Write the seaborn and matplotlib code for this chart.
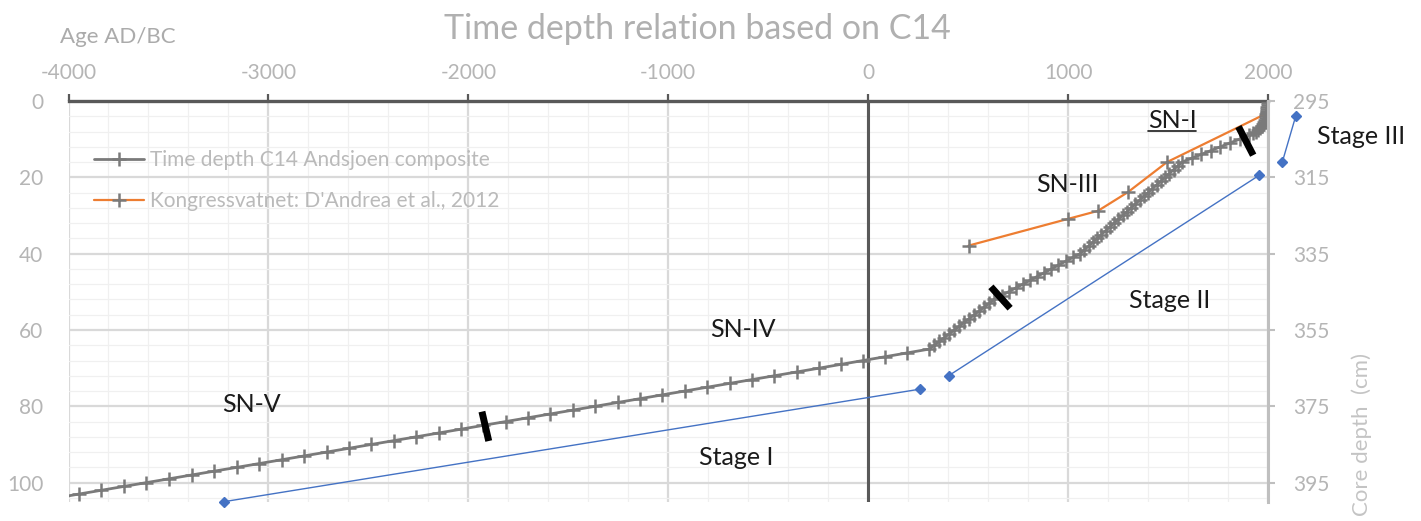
import matplotlib
matplotlib.use('Agg')
import matplotlib.pyplot as plt
from matplotlib.lines import Line2D
import numpy as np
import seaborn as sns

# ---------------- data ----------------
# Time depth C14 Andsjoen composite (age AD/BC, depth)
age_c14 = [-4060, -3948, -3835, -3723, -3610, -3497, -3384, -3271, -3158, -3045,
           -2933, -2821, -2709, -2597, -2485, -2373, -2261, -2149, -2037, -1925,
           -1813, -1701, -1589, -1477, -1365, -1253, -1141, -1029, -917, -805,
           -693, -581, -469, -357, -245, -135, -25, 86, 196, 306,
           331, 356, 381, 406, 431, 456, 481, 506, 531, 556, 581, 606, 631,
           667, 702, 738, 774, 810, 845, 881, 917, 952, 988, 1024, 1060,
           1081, 1103, 1124, 1145, 1166, 1188, 1209, 1230, 1251, 1273, 1294, 1315,
           1336, 1358, 1379, 1400, 1421, 1443, 1464, 1485, 1506, 1528, 1549, 1570,
           1618, 1666, 1714, 1762, 1810, 1858, 1903,
           1925, 1940, 1952, 1962, 1970, 1976, 1981, 1985, 1988, 1990, 1992, 1994,
           1995, 1996, 1997, 1998, 1999]
depth_c14 = [104, 103, 102, 101, 100, 99, 98, 97, 96, 95,
             94, 93, 92, 91, 90, 89, 88, 87, 86, 85,
             84, 83, 82, 81, 80, 79, 78, 77, 76, 75,
             74, 73, 72, 71, 70, 69, 68, 67, 66, 65,
             64, 63, 62, 61, 60, 59, 58, 57, 56, 55, 54, 53, 52,
             51, 50, 49, 48, 47, 46, 45, 44, 43, 42, 41, 40,
             39, 38, 37, 36, 35, 34, 33, 32, 31, 30, 29, 28,
             27, 26, 25, 24, 23, 22, 21, 20, 19, 18, 17, 16,
             15, 14, 13, 12, 11, 10, 9,
             8.5, 8, 7.5, 7, 6.5, 6, 5.5, 5, 4.5, 4, 3.5, 3,
             2.5, 2, 1.5, 1, 0.5]

# Kongressvatnet: D'Andrea et al., 2012
age_kong = [502, 999, 1149, 1299, 1495, 1995]
depth_kong = [37.9, 30.9, 28.8, 23.9, 16.0, 3.2]

series_labels = ["Time depth C14 Andsjoen composite",
                 "Kongressvatnet: D'Andrea et al., 2012"]

# Stage annotation lines (age, depth)
stage1_age = [-3223, 260]
stage1_depth = [105.0, 75.5]
stage2_age = [402, 1955]
stage2_depth = [72.0, 19.5]
stage3_age = [2071, 2139]
stage3_depth = [16.1, 3.9]

# Zone boundary bars (age, depth)
bar1_age = [-1932, -1898]
bar1_depth = [81.4, 89.1]
bar2_age = [614, 710]
bar2_depth = [48.7, 54.3]
bar3_age = [1852, 1926]
bar3_depth = [6.7, 14.2]

x_ticks = [-4000, -3000, -2000, -1000, 0, 1000, 2000]
x_ticklabels = ["-4000", "-3000", "-2000", "-1000", "0", "1000", "2000"]
y_ticks = [0, 20, 40, 60, 80, 100]
y_ticklabels = ["0", "20", "40", "60", "80", "100"]
y2_ticks = [295, 315, 335, 355, 375, 395]
y2_ticklabels = ["295", "315", "335", "355", "375", "395"]

zone_labels = ["SN-I", "SN-III", "SN-IV", "SN-V"]
zone_pos = [(1520, 5.0), (995, 21.8), (-625, 60.0), (-3085, 79.4)]
stage_labels = ["Stage I", "Stage II", "Stage III"]
stage_pos = [(-660, 93.5), (1510, 52.2), (2465, 9.2)]

# ---------------- style ----------------
sns.set_theme(style='white')
plt.rcParams['font.family'] = ['Lato', 'DejaVu Sans']
plt.rcParams['axes.unicode_minus'] = False

W, H = 1421, 521
fig = plt.figure(figsize=(W / 100, H / 100), dpi=100)
fig.patch.set_facecolor('white')
ax = fig.add_axes([68.5 / W, (H - 501.7) / H, (1268 - 68.5) / W, 400.7 / H])
ax.set_facecolor('white')

TXT = '#b5b5b5'
DARK = '#595959'
GRAYL = '#7a7a7a'

ax.set_xlim(-4000, 2000)
ax.set_ylim(105, 0)
ax.set_xticks(x_ticks)
ax.set_xticklabels(x_ticklabels)
ax.set_xticks(np.arange(-4000, 2001, 200), minor=True)
ax.set_yticks(y_ticks)
ax.set_yticklabels(y_ticklabels)
ax.set_yticks(np.arange(0, 105, 4), minor=True)
ax.set_axisbelow(True)
ax.grid(True, which='major', color='#d9d9d9', lw=1.6)
ax.grid(True, which='minor', color='#f0f0f0', lw=0.9)

ax.xaxis.tick_top()
ax.tick_params(axis='x', which='major', top=True, bottom=False, labeltop=True,
               labelbottom=False, length=5, width=1.6, color=DARK, pad=8,
               labelsize=15, labelcolor=TXT, direction='out')
ax.tick_params(axis='x', which='minor', length=0)
ax.tick_params(axis='y', which='both', left=False, right=False, length=0, pad=18,
               labelsize=15, labelcolor=TXT)
for s in ['left', 'right', 'bottom']:
    ax.spines[s].set_visible(False)
ax.spines['top'].set_color(DARK)
ax.spines['top'].set_linewidth(2.4)

ax.axvline(0, color=DARK, lw=2.2, zorder=2)

# series
sns.lineplot(x=age_c14, y=depth_c14, sort=False, estimator=None, ax=ax,
             color=GRAYL, lw=2.0, marker='+', markersize=9.5, markeredgewidth=1.8,
             markeredgecolor=GRAYL, label=series_labels[0], zorder=4)
sns.lineplot(x=age_kong, y=depth_kong, sort=False, estimator=None, ax=ax,
             color='#ed7d31', lw=1.6, marker='+', markersize=9.5, markeredgewidth=1.8,
             markeredgecolor=GRAYL, label=series_labels[1], zorder=3)

# stage lines
for xa, ya in [(stage1_age, stage1_depth), (stage2_age, stage2_depth),
               (stage3_age, stage3_depth)]:
    ax.plot(xa, ya, color='#4472c4', lw=1.0, marker='D', markersize=5.5,
            clip_on=False, zorder=5)

# boundary bars
for xa, ya in [(bar1_age, bar1_depth), (bar2_age, bar2_depth), (bar3_age, bar3_depth)]:
    ax.plot(xa, ya, color='black', lw=5, solid_capstyle='butt', zorder=6)

# labels
texts = []
for lab, (xx, yy) in zip(zone_labels, zone_pos):
    t = ax.text(xx, yy, lab, ha='center', va='center', fontsize=18, color='#1a1a1a')
    texts.append(t)
for lab, (xx, yy) in zip(stage_labels, stage_pos):
    ax.text(xx, yy, lab, ha='center', va='center', fontsize=18, color='#1a1a1a',
            clip_on=False)

# legend
handles, labels = ax.get_legend_handles_labels()
leg = ax.legend(handles, labels, loc='upper left',
                bbox_to_anchor=(94 / W, (H - 150) / H), bbox_transform=fig.transFigure,
                frameon=False, labelcolor='#bababa', handlelength=2.4,
                handletextpad=0.3, labelspacing=1.0, borderpad=0, borderaxespad=0,
                numpoints=1, prop={'size': 15})

# right axis
ax2 = ax.twinx()
ax2.set_ylim(400, 295)
ax2.set_yticks(y2_ticks)
ax2.set_yticklabels(y2_ticklabels)
ax2.grid(False)
for s in ['left', 'top', 'bottom']:
    ax2.spines[s].set_visible(False)
ax2.spines['right'].set_color('#bfbfbf')
ax2.spines['right'].set_linewidth(2.2)
ax2.tick_params(axis='y', right=True, length=5, width=1.5, color='#bfbfbf', pad=13,
                labelsize=15, labelcolor=TXT, direction='out')

# titles
fig.text(697 / W, (H - 29) / H, "Time depth relation based on C14", ha='center',
         va='center', fontsize=24.5, color='#b0b0b0')
fig.text(60 / W, (H - 37) / H, "Age AD/BC", ha='left', va='center', fontsize=16,
         color='#ababab')
fig.text(1362 / W, (H - 435) / H, "Core depth  (cm)", ha='center', va='center',
         rotation=90, fontsize=16, color='#c4c4c4')

# underline SN-I
renderer = fig.canvas.get_renderer()
bb = texts[0].get_window_extent(renderer)
fig.add_artist(Line2D([bb.x0 / W, bb.x1 / W], [(bb.y0 + 1) / H, (bb.y0 + 1) / H],
                      transform=fig.transFigure, color='#1a1a1a', lw=1.2))

fig.savefig('out.png', dpi=100, facecolor='white')
